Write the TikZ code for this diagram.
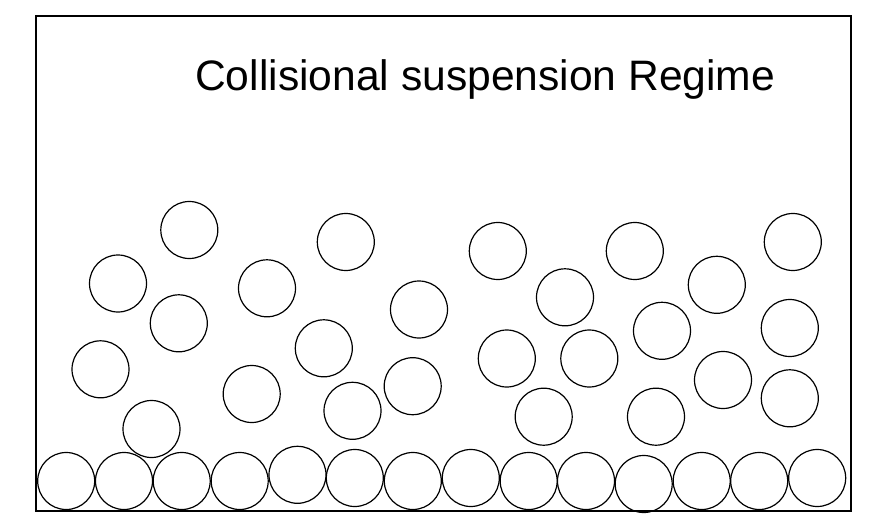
\documentclass[tikz,border=0pt]{standalone}
\usepackage{fontspec}
\setmainfont{Liberation Sans}
\begin{document}
\begin{tikzpicture}[x=1pt,y=-1pt,
  grain/.style={circle,draw=black,line width=1.2pt,minimum size=57pt,inner sep=0pt},
  frame/.style={draw=black,line width=1.6pt},
  title/.style={anchor=base west,inner sep=0pt,font=\fontsize{42.6}{50}\selectfont}]
\useasboundingbox (0,0) rectangle (879,522);
\draw[frame] (35.7,15.7) rectangle (850.7,511);
\node[title] (t) at (195,90) {Collisional suspension Regime};
% bottom row
\foreach \n/\x/\y in {b1/66.2/481, b2/124/481, b3/181.7/481, b4/239.7/481, b5/297.5/474.8,
  b6/354.8/478, b7/412.8/481, b8/470.8/478, b9/528.7/481, b10/586/481, b11/643.7/484,
  b12/701.7/481, b13/759.2/481, b14/817.2/478}
  \node[grain] (\n) at (\x,\y) {};
% suspended grains
\foreach \n/\x/\y in {a/189.3/230, b/345.8/242, c/118/283.5, d/178.8/323.3, e/267/288.3,
  f/419/309.5, g/100.5/369.3, h/323.8/348.3, i/251.7/394, j/352.5/410.8, k/412.7/386.2,
  l/151.5/429, m/497.8/251, n/634.8/251, o/792.8/242, p/716.8/284.8, q/565/297.3,
  r/662/330.8, s/789.8/328, tt/506.8/358.5, u/589.3/358.5, v/723/380, w/789.8/398.3,
  x/543.7/416.7, y/656/416.7}
  \node[grain] (\n) at (\x,\y) {};
\end{tikzpicture}
\end{document}
